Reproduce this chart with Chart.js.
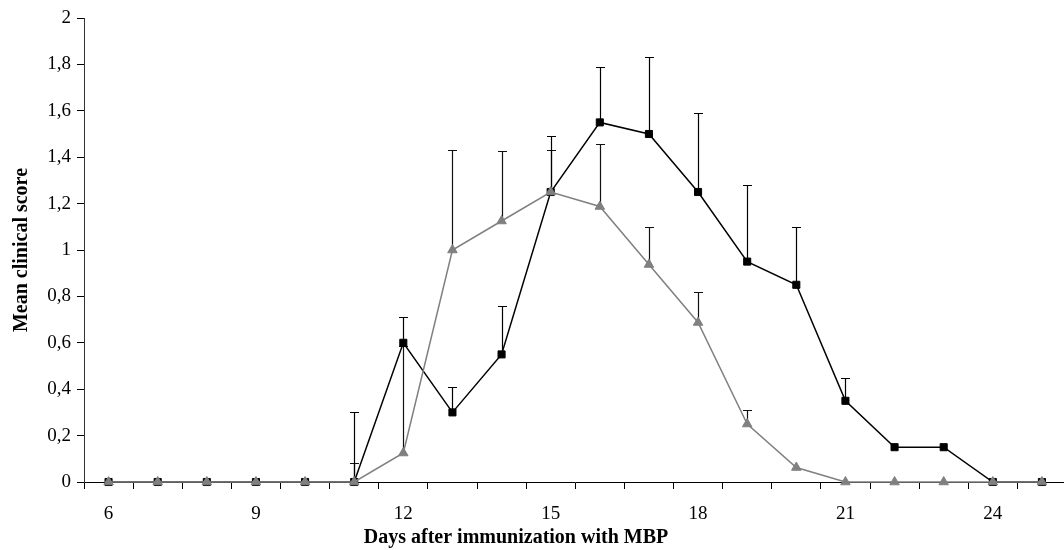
<!DOCTYPE html>
<html>
<head>
<meta charset="utf-8">
<script src="https://cdn.jsdelivr.net/npm/chart.js@4.4.1/dist/chart.umd.min.js"></script>
<style>
  html, body { margin: 0; padding: 0; overflow: hidden; background: #fff; }
  canvas { display: block; }
</style>
</head>
<body>
<canvas id="c" width="1073" height="550" style="width:1073px;height:550px"></canvas>
<script>
const days = [6, 7, 8, 9, 10, 11, 12, 13, 14, 15, 16, 17, 18, 19, 20, 21, 22, 23, 24, 25];
const labeledDays = [6, 9, 12, 15, 18, 21, 24];
const yTicks = [0, 0.2, 0.4, 0.6, 0.8, 1, 1.2, 1.4, 1.6, 1.8, 2];

const blackMean = [0, 0, 0, 0, 0, 0, 0.6, 0.3, 0.55, 1.25, 1.55, 1.5, 1.25, 0.95, 0.85, 0.35, 0.15, 0.15, 0, 0];
const blackErr  = [0, 0, 0, 0, 0, 0.30, 0.11, 0.11, 0.21, 0.24, 0.24, 0.33, 0.34, 0.33, 0.25, 0.10, 0, 0, 0, 0];

const grayMean = [0, 0, 0, 0, 0, 0, 0.125, 1.0, 1.125, 1.25, 1.1875, 0.9375, 0.6875, 0.25, 0.0625, 0, 0, 0, 0, 0];
const grayErr  = [0, 0, 0, 0, 0, 0.08, 0.46, 0.43, 0.30, 0.18, 0.27, 0.16, 0.13, 0.06, 0, 0, 0, 0, 0, 0];

const xTitle = 'Days after immunization with MBP';
const yTitle = 'Mean clinical score';

const FONT = "'Liberation Serif', 'Times New Roman', serif";

const errorBars = {
  id: 'errorBars',
  beforeDatasetsDraw(chart) {
    const ctx = chart.ctx;
    const xs = chart.scales.x, ys = chart.scales.y;
    ctx.save();
    chart.data.datasets.forEach(ds => {
      if (!ds.errors) return;
      ctx.strokeStyle = ds.errorColor;
      ctx.lineWidth = 1.2;
      ds.data.forEach((v, i) => {
        const e = ds.errors[i];
        if (!e) return;
        const x = Math.round(xs.getPixelForValue(i)) + 0.5;
        const y0 = ys.getPixelForValue(v);
        const y1 = Math.round(ys.getPixelForValue(v + e)) + 0.5;
        ctx.beginPath();
        ctx.moveTo(x, y0);
        ctx.lineTo(x, y1);
        ctx.moveTo(x - 4.5, y1);
        ctx.lineTo(x + 4.5, y1);
        ctx.stroke();
      });
    });
    ctx.restore();
  }
};

// x-axis title, placed slightly left of the plot centre as in the original
const xAxisTitle = {
  id: 'xAxisTitle',
  afterDraw(chart) {
    const ctx = chart.ctx;
    ctx.save();
    ctx.font = "bold 20px " + FONT;
    ctx.fillStyle = '#000';
    ctx.textAlign = 'center';
    ctx.textBaseline = 'alphabetic';
    ctx.fillText(xTitle, 516, 543);
    ctx.restore();
  }
};

new Chart(document.getElementById('c'), {
  type: 'line',
  data: {
    labels: days,
    datasets: [
      {
        label: 'gray',
        data: grayMean,
        errors: grayErr,
        errorColor: '#111',
        borderColor: '#808080',
        backgroundColor: '#808080',
        borderWidth: 1.5,
        pointStyle: 'triangle',
        pointRadius: 5.5,
        pointBorderWidth: 1,
        pointBorderColor: '#808080',
        pointBackgroundColor: '#808080',
        tension: 0,
        clip: false,
        order: 0
      },
      {
        label: 'black',
        data: blackMean,
        errors: blackErr,
        errorColor: '#000',
        borderColor: '#000',
        backgroundColor: '#000',
        borderWidth: 1.5,
        pointStyle: 'rect',
        pointRadius: 5,
        pointBorderWidth: 1,
        pointBorderColor: '#000',
        pointBackgroundColor: '#000',
        tension: 0,
        clip: false,
        order: 1
      }
    ]
  },
  options: {
    responsive: false,
    animation: false,
    layout: { padding: { top: 18, left: 0, right: 0, bottom: 0 } },
    plugins: {
      legend: { display: false },
      tooltip: { enabled: false }
    },
    scales: {
      x: {
        type: 'category',
        offset: true,
        afterFit(s) { s.height = 68; },
        grid: {
          display: true,
          offset: true,
          drawOnChartArea: false,
          drawTicks: true,
          tickLength: 7,
          color: '#000',
          lineWidth: 1
        },
        border: { display: true, color: '#000', width: 1 },
        ticks: {
          autoSkip: false,
          maxRotation: 0,
          padding: 14,
          color: '#000',
          font: { family: FONT, size: 19 },
          callback(val, idx) {
            const d = days[idx];
            return labeledDays.includes(d) ? String(d) : '';
          }
        },
        title: { display: false }
      },
      y: {
        min: 0,
        max: 2,
        afterFit(s) { s.width = 84; },
        afterBuildTicks(s) { s.ticks = yTicks.map(v => ({ value: v })); },
        grid: {
          display: true,
          drawOnChartArea: false,
          drawTicks: true,
          tickLength: 7,
          color: '#000',
          lineWidth: 1
        },
        border: { display: true, color: '#333', width: 1 },
        ticks: {
          padding: 6,
          color: '#000',
          font: { family: FONT, size: 19 },
          callback(v) { return String(Number(v.toFixed(1))).replace('.', ','); }
        },
        title: {
          display: true,
          text: yTitle,
          color: '#000',
          font: { family: FONT, size: 20, weight: 'bold' },
          padding: { top: 10, bottom: 0 }
        }
      }
    }
  },
  plugins: [errorBars, xAxisTitle]
});
</script>
</body>
</html>
